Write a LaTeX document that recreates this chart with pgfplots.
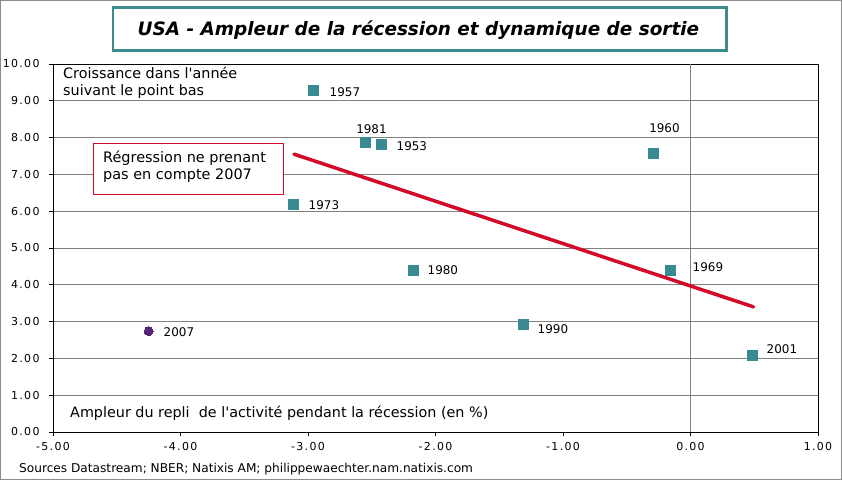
\documentclass[border=0pt]{standalone}
\usepackage{pgfplots}
\pgfplotsset{compat=1.18}
\usepackage{fontspec}
\setmainfont{DejaVu Sans}
\newfontfamily\tickfont[LetterSpace=12]{DejaVu Sans}
\definecolor{teal1}{RGB}{58,139,145}
\definecolor{titleteal}{RGB}{60,140,140}
\definecolor{purp}{RGB}{88,35,120}
\definecolor{regred}{RGB}{210,10,40}
\definecolor{gridgray}{RGB}{128,128,128}
\definecolor{bordergray}{RGB}{140,140,140}
\begin{document}
\begin{tikzpicture}
\useasboundingbox (0,0) rectangle (842bp,480bp);
\fill[white] (0,0) rectangle (842bp,480bp);
\draw[bordergray, line width=0.8bp] (0.5bp,0.5bp) rectangle (841.5bp,479.5bp);
\begin{axis}[
  at={(53bp,48bp)}, anchor=south west,
  width=765bp, height=368bp, scale only axis,
  xmin=-5, xmax=1, ymin=0, ymax=10,
  xtick={-5,-4,-3,-2,-1,0,1}, ytick={0,1,2,3,4,5,6,7,8,9,10},
  ymajorgrids, grid style={draw=gridgray, line width=0.8bp},
  axis line style={black, line width=0.8bp},
  tick style={black, line width=0.8bp},
  tick align=outside, major tick length=4bp,
  xtick pos=bottom, ytick pos=left,
  /pgf/number format/assume math mode=true,
  /pgf/number format/.cd, fixed, fixed zerofill, precision=2, /pgfplots/.cd,
  tick label style={font=\tickfont\fontsize{11}{13}\selectfont, text=black},
  xticklabel style={yshift=-3bp},
  yticklabel style={xshift=-6bp},
  clip=false,
]
\addplot[gridgray, line width=0.8bp, forget plot] coordinates {(0,0) (0,10)};
\addplot[regred, line width=3.5bp, line cap=round] coordinates {(-3.11,7.55) (0.494,3.40)};
\addplot[only marks, mark=square*, mark size=5bp, mark options={draw=teal1, fill=teal1, line width=0pt}] coordinates {
(-2.96,9.27) (-2.55,7.86) (-2.42,7.81) (-0.29,7.58) (-3.11,6.17) (-2.17,4.40) (-0.157,4.40) (-1.31,2.91) (0.486,2.07)};
\addplot[only marks, mark=*, mark size=4.5bp, mark options={draw=purp, fill=purp, line width=0pt}] coordinates {(-4.25,2.74)};
\begin{scope}[every node/.style={font=\fontsize{12}{14}\selectfont, inner sep=0pt}]
\node[anchor=west] at (axis cs:-2.831,9.24) {1957};
\node[anchor=center] at (axis cs:-2.502,8.23) {1981};
\node[anchor=west] at (axis cs:-2.306,7.77) {1953};
\node[anchor=center] at (axis cs:-0.204,8.26) {1960};
\node[anchor=west] at (axis cs:-2.996,6.17) {1973};
\node[anchor=west] at (axis cs:-2.063,4.40) {1980};
\node[anchor=west] at (axis cs:0.016,4.48) {1969};
\node[anchor=west] at (axis cs:-1.2,2.80) {1990};
\node[anchor=west] at (axis cs:0.596,2.26) {2001};
\node[anchor=west] at (axis cs:-4.133,2.72) {2007};
\end{scope}
\end{axis}
% title
\draw[titleteal, line width=2.7bp, fill=white] (113bp,429.6bp) rectangle (726.3bp,472.6bp);
\node[font=\bfseries\itshape\fontsize{18.5}{22}\selectfont, inner sep=0pt, anchor=base] at (418.4bp,444.3bp) {USA - Ampleur de la récession et dynamique de sortie};
% annotations
\begin{scope}[every node/.style={font=\fontsize{14.4}{16}\selectfont, inner sep=0pt, anchor=base west}]
\node at (63bp,401bp) {Croissance dans l\textquotesingle année};
\node at (63bp,384.3bp) {suivant le point bas};
\node at (70bp,62.3bp) {Ampleur du repli\ \ de l\textquotesingle activité pendant la récession (en \%)};
\end{scope}
\node[font=\fontsize{12.2}{14}\selectfont, inner sep=0pt, anchor=base west] at (19bp,7.7bp) {Sources Datastream; NBER; Natixis AM; philippewaechter.nam.natixis.com};
% red box
\draw[regred, line width=0.8bp, fill=white] (93.5bp,286bp) rectangle (283bp,337bp);
\begin{scope}[every node/.style={font=\fontsize{14.5}{16}\selectfont, inner sep=0pt, anchor=base west}]
\node at (103bp,317.7bp) {Régression ne prenant};
\node at (103bp,300bp) {pas en compte 2007};
\end{scope}
\end{tikzpicture}
\end{document}
